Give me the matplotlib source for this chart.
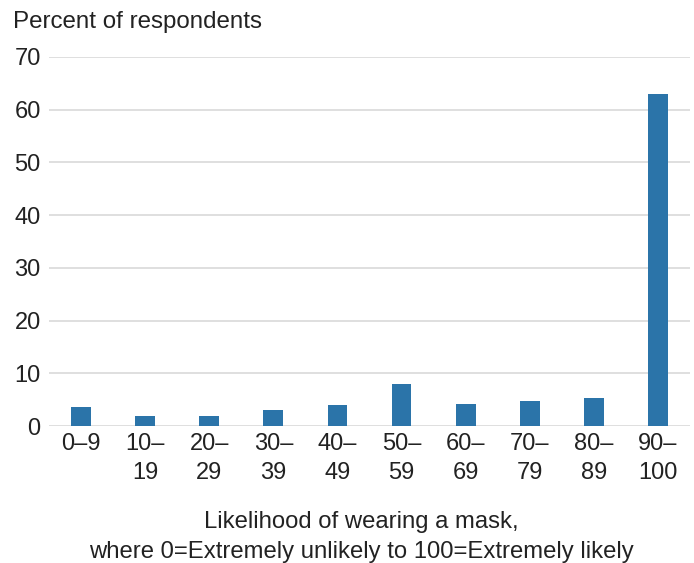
import numpy as np
import matplotlib.pyplot as plt

plt.rcParams['font.family'] = ['Liberation Sans', 'DejaVu Sans']

# Datos
categorias = ["0–9", "10–\n19", "20–\n29", "30–\n39", "40–\n49",
              "50–\n59", "60–\n69", "70–\n79", "80–\n89", "90–\n100"]
porcentajes = [3.55, 1.85, 1.9, 3.0, 3.9, 8.05, 4.25, 4.7, 5.35, 62.9]
yticks = [0, 10, 20, 30, 40, 50, 60, 70]

color_barra = "#2b74a9"
color_texto = "#222222"
fs = 17

W, H = 694, 563
fig = plt.figure(figsize=(W / 100, H / 100), dpi=100)
ax = fig.add_axes([0.0706, 0.2433, 0.9236, 0.6555])

x = np.arange(len(categorias))
ax.bar(x, porcentajes, width=0.31, color=color_barra, zorder=3)

ax.set_xlim(-0.5, len(categorias) - 0.5)
ax.set_ylim(0, 70)
ax.set_yticks(yticks)
ax.set_xticks(x)
ax.set_xticklabels(categorias, fontsize=fs, color=color_texto, linespacing=1.39)
ax.tick_params(axis='y', labelsize=fs, colors=color_texto, length=0, pad=6)
ax.tick_params(axis='x', length=0, pad=5)
for lab in ax.get_yticklabels():
    lab.set_color(color_texto)

ax.grid(axis='y', color='#d9d9d9', linewidth=1.2, zorder=0)
for s in ax.spines.values():
    s.set_visible(False)

# Título del eje X: dos líneas centradas, colocadas por su línea base
fig.text(361.5 / W, 1 - 528 / H, "Likelihood of wearing a mask,",
         fontsize=17.2, color=color_texto, ha='center', va='baseline')
fig.text(361.5 / W, 1 - 558 / H, "where 0=Extremely unlikely to 100=Extremely likely",
         fontsize=17.2, color=color_texto, ha='center', va='baseline')

fig.text(13 / W, 1 - 22 / H, "Percent of respondents", fontsize=17.4,
         color=color_texto, ha='left', va='center')

fig.savefig("out.png", dpi=100)
